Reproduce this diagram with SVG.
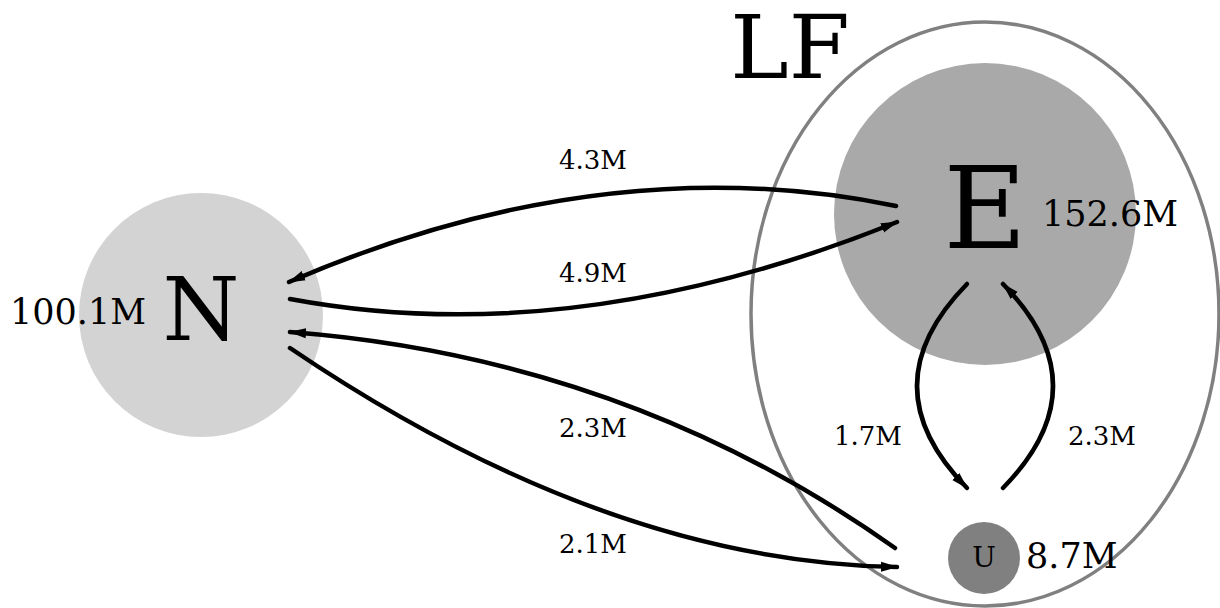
<svg xmlns="http://www.w3.org/2000/svg" width="1220" height="608" viewBox="0 0 1220 608">
<style>
.t{font-family:"DejaVu Serif","Liberation Serif",serif;fill:#000}
.big{font-size:88px;text-anchor:middle}
.val{font-size:35px}
.lbl{font-size:26px;text-anchor:middle}
.e{fill:none;stroke:#000;stroke-width:4.5;stroke-linecap:round;marker-end:url(#ah)}
</style>
<defs>
<marker id="ah" markerUnits="userSpaceOnUse" viewBox="0 0 17 11" refX="16" refY="5.5" markerWidth="17" markerHeight="11" orient="auto">
<path d="M0,0.5 L17,5.5 L0,10.5 z" fill="#000"/>
</marker>
</defs>
<rect width="1220" height="608" fill="#fff"/>
<g id="LF">
<ellipse cx="985" cy="314" rx="234" ry="292" fill="none" stroke="#808080" stroke-width="3.5"/>
<text class="t big" x="790" y="78">LF</text>
</g>
<g id="N">
<circle cx="201" cy="315" r="122" fill="#d3d3d3"/>
<text class="t big" x="201" y="340">N</text>
<text class="t val" x="146" y="324" text-anchor="end">100.1M</text>
</g>
<g id="E">
<circle cx="985" cy="214" r="151" fill="#a9a9a9"/>
<text class="t" x="985" y="248" font-size="114" text-anchor="middle">E</text>
<text class="t val" x="1042" y="226">152.6M</text>
</g>
<g id="U">
<circle cx="984" cy="558" r="36" fill="#808080"/>
<text class="t" x="984" y="567" font-size="28" text-anchor="middle">U</text>
<text class="t val" x="1026" y="568">8.7M</text>
</g>
<g id="connectors">
<path class="e" d="M896,206 Q604,146 289,282"/>
<path class="e" d="M290,299 Q574,352 897,222"/>
<path class="e" d="M895,548 Q627,358 290,332"/>
<path class="e" d="M290,348 Q606,562 897,567"/>
<path class="e" d="M967,284 Q867,386 967,488"/>
<path class="e" d="M1003,488 Q1103,386 1003,284"/>
<text class="t lbl" x="593" y="169">4.3M</text>
<text class="t lbl" x="593" y="282">4.9M</text>
<text class="t lbl" x="593" y="437">2.3M</text>
<text class="t lbl" x="593" y="553">2.1M</text>
<text class="t lbl" x="868" y="445">1.7M</text>
<text class="t lbl" x="1102" y="445">2.3M</text>
</g>
</svg>
